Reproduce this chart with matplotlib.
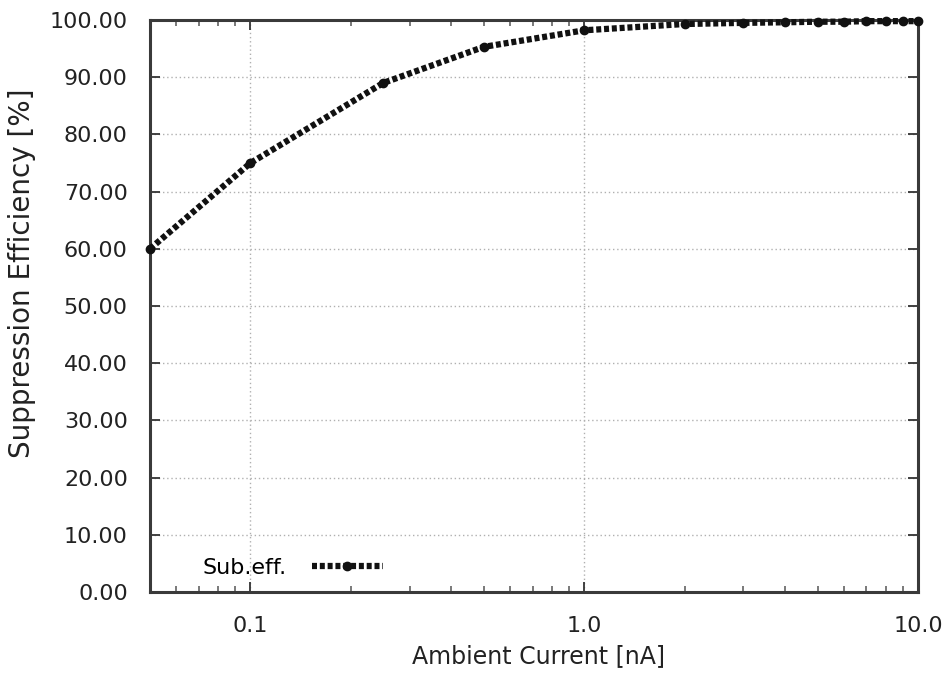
import matplotlib
matplotlib.use("Agg")
import matplotlib.pyplot as plt
import numpy as np
from matplotlib.ticker import FixedLocator, LogLocator, NullFormatter

# Data
current = [0.05, 0.1, 0.25, 0.5, 1.0, 2.0, 3.0, 4.0, 5.0, 6.0, 7.0, 8.0, 9.0, 10.0]
efficiency = [60.0, 75.0, 89.0, 95.3, 98.2, 99.3, 99.5, 99.6, 99.7, 99.7, 99.8, 99.8, 99.8, 99.8]
xticks = [0.1, 1.0, 10.0]
xtick_labels = ["0.1", "1.0", "10.0"]
yticks = np.arange(0, 101, 10)

plt.rcParams["font.family"] = ["DejaVu Sans"]

fig = plt.figure(figsize=(9.45, 6.73), dpi=100)
ax = fig.add_axes([150 / 945, 1 - 592 / 673, (918 - 150) / 945, (592 - 20) / 673])

ax.plot(
    current,
    efficiency,
    color="#111111",
    linewidth=4.5,
    linestyle=(0, (0.8, 0.45)),
    marker="o",
    markersize=6,
    label="Sub.eff.",
    clip_on=False,
    zorder=5,
)

ax.set_xscale("log")
ax.set_xlim(0.05, 10.0)
ax.set_ylim(0, 100)

ax.xaxis.set_major_locator(FixedLocator(xticks))
ax.set_xticklabels(xtick_labels)
ax.xaxis.set_minor_locator(LogLocator(base=10, subs=np.arange(2, 10)))
ax.xaxis.set_minor_formatter(NullFormatter())
ax.set_yticks(yticks)
ax.set_yticklabels([f"{v:.2f}" for v in yticks])

ax.tick_params(axis="both", which="major", direction="in", length=7, width=1.3,
               top=True, right=True, labelsize=16, colors="#333333",
               labelcolor="#222222")
ax.tick_params(axis="y", which="major", pad=16)
ax.tick_params(axis="x", which="major", pad=17)
ax.tick_params(axis="both", which="minor", direction="in", length=4, width=1.1,
               top=True, right=True, colors="#555555")

ax.grid(True, which="major", linestyle=(0, (1, 2)), color="#b0b0b0", linewidth=1.0)

for side in ax.spines.values():
    side.set_linewidth(2.2)
    side.set_color("#3a3a3a")

ax.set_xlabel("Ambient Current [nA]", fontsize=17, color="#222222")
ax.xaxis.set_label_coords((539 - 150) / 768, (592 - 644) / 572)
ax.set_ylabel("Suppression Efficiency [%]", fontsize=20, color="#222222")
ax.yaxis.set_label_coords((36 - 150) / 768, (592 - 273) / 572)

leg = ax.legend(loc="center left", bbox_to_anchor=((203 - 150) / 768, (592 - 568) / 572),
                frameon=False, fontsize=16, markerfirst=False, handlelength=3.2,
                handletextpad=1.1, borderpad=0, borderaxespad=0)

fig.savefig("out.png", dpi=100)
